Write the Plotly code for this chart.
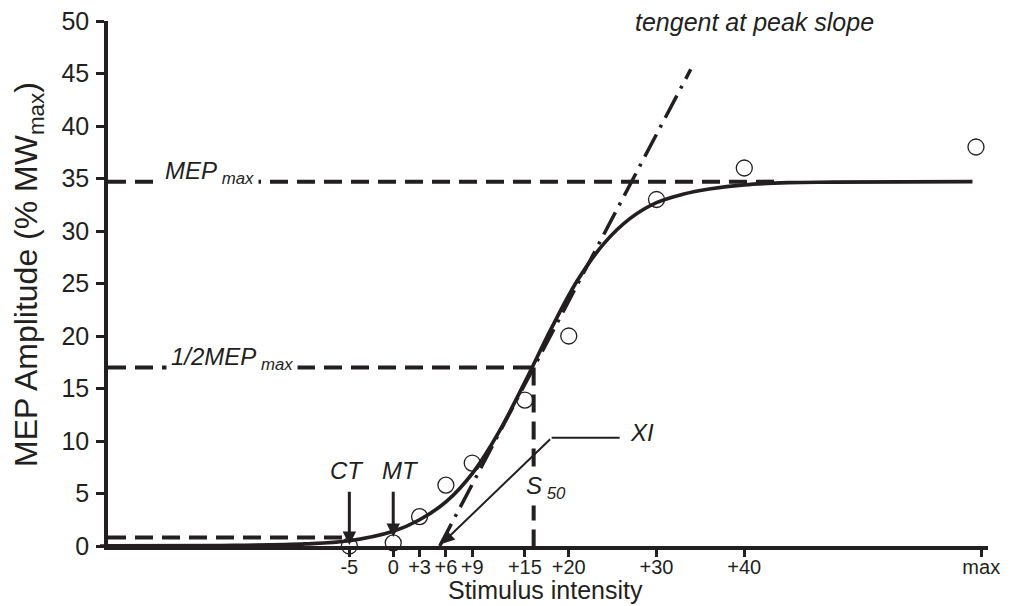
import plotly.graph_objects as go

# ---- data ----
tick_vals = [-5, 0, 3, 6, 9, 15, 20, 30, 40, 67]
tick_text = ["-5", "0", "+3", "+6", "+9", "+15", "+20", "+30", "+40", "max"]

point_x = [-5, 0, 3, 6, 9, 15, 20, 30, 40, 66.4]
point_y = [0.0, 0.3, 2.8, 5.8, 7.9, 13.9, 20.0, 33.0, 36.0, 38.0]

curve_x = [-33.4, -20, -10, -5, 0, 3, 6, 9, 12, 15, 18, 21, 24, 27, 30, 33, 36, 40, 45, 50, 66]
curve_y = [0.0, 0.05, 0.2, 0.5, 1.4, 2.5, 4.2, 6.9, 10.8, 15.6, 20.7, 25.3, 28.8, 31.2, 32.7,
           33.5, 34.0, 34.4, 34.6, 34.65, 34.7]

tangent_x = [5.3, 33.9]
tangent_y = [0.0, 45.4]

MEP_MAX = 34.7
HALF_MEP = 17.0
S50 = 16.0
CT_LEVEL = 0.8
CT_X = -5
MT_X = 0
MEP_LINE_END = 43.5
CT_LINE_END = -5.8
XI_ELBOW = (18.05, 10.3)
XI_END = 25.8
XI_TIP = (5.5, 0.2)

# ---- styling ----
INK = "#231f20"
FONT = "Liberation Sans, Arial, sans-serif"
DASH = "18px,9px"
XMIN, XMAX = -32.5, 67.77

fig = go.Figure()

# reference dashed lines
fig.add_trace(go.Scatter(x=[XMIN, MEP_LINE_END], y=[MEP_MAX, MEP_MAX], mode="lines",
                         line=dict(color=INK, width=4, dash=DASH)))
fig.add_trace(go.Scatter(x=[XMIN, S50], y=[HALF_MEP, HALF_MEP], mode="lines",
                         line=dict(color=INK, width=4, dash=DASH)))
fig.add_trace(go.Scatter(x=[S50, S50], y=[HALF_MEP, 0], mode="lines",
                         line=dict(color=INK, width=4, dash=DASH)))
fig.add_trace(go.Scatter(x=[XMIN, CT_LINE_END], y=[CT_LEVEL, CT_LEVEL], mode="lines",
                         line=dict(color=INK, width=4, dash=DASH)))

# tangent at peak slope
fig.add_trace(go.Scatter(x=tangent_x, y=tangent_y, mode="lines",
                         line=dict(color=INK, width=3.5, dash="25px,8px,3px,8px")))

# XI horizontal leader
fig.add_trace(go.Scatter(x=[XI_ELBOW[0], XI_END], y=[XI_ELBOW[1], XI_ELBOW[1]], mode="lines",
                         line=dict(color=INK, width=2)))

# fitted curve
fig.add_trace(go.Scatter(x=curve_x, y=curve_y, mode="lines",
                         line=dict(color=INK, width=3.7, shape="spline", smoothing=1.0)))

# data points
fig.add_trace(go.Scatter(x=point_x, y=point_y, mode="markers", cliponaxis=False,
                         marker=dict(symbol="circle-open", size=16, color=INK,
                                     line=dict(width=1.3, color=INK))))

ann = []
lab_font = dict(family=FONT, size=24, color=INK)
ann.append(dict(x=-20.9, y=MEP_MAX, xref="x", yref="y", text="<i>MEP<sub> max</sub></i>",
                showarrow=False, bgcolor="white", borderpad=4, font=lab_font,
                xanchor="center", yanchor="middle", yshift=9))
ann.append(dict(x=-18.4, y=HALF_MEP, xref="x", yref="y", text="<i>1/2MEP<sub> max</sub></i>",
                showarrow=False, bgcolor="white", borderpad=4, font=lab_font,
                xanchor="center", yanchor="middle", yshift=9))
ann.append(dict(x=17.4, y=5.6, xref="x", yref="y", text="<i>S<sub> 50</sub></i>",
                showarrow=False, bgcolor="white", borderpad=2, font=lab_font,
                xanchor="center", yanchor="middle"))
ann.append(dict(x=28.3, y=10.8, xref="x", yref="y", text="<i>XI</i>",
                showarrow=False, font=lab_font, xanchor="center", yanchor="middle"))
ann.append(dict(x=-5.3, y=7.2, xref="x", yref="y", text="<i>CT</i>",
                showarrow=False, font=lab_font, xanchor="center", yanchor="middle"))
ann.append(dict(x=0.8, y=7.2, xref="x", yref="y", text="<i>MT</i>",
                showarrow=False, font=lab_font, xanchor="center", yanchor="middle"))
ann.append(dict(x=41.2, y=49.9, xref="x", yref="y", text="<i>tengent at peak slope</i>",
                showarrow=False, font=dict(family=FONT, size=25, color=INK),
                xanchor="center", yanchor="middle"))
# arrows
ann.append(dict(x=CT_X, y=0.1, ax=CT_X, ay=5.3, xref="x", yref="y", axref="x", ayref="y",
                text="", showarrow=True, arrowhead=2, arrowsize=0.9, arrowwidth=3, arrowcolor=INK))
ann.append(dict(x=MT_X, y=0.85, ax=MT_X, ay=5.3, xref="x", yref="y", axref="x", ayref="y",
                text="", showarrow=True, arrowhead=2, arrowsize=0.9, arrowwidth=3, arrowcolor=INK))
ann.append(dict(x=XI_TIP[0], y=XI_TIP[1], ax=XI_ELBOW[0], ay=XI_ELBOW[1], xref="x", yref="y",
                axref="x", ayref="y", text="", showarrow=True, arrowhead=2, arrowsize=1.3,
                arrowwidth=2, arrowcolor=INK))
# axis titles
ann.append(dict(x=-0.091, y=0.518, xref="paper", yref="paper",
                text="MEP Amplitude (% MW<sub>max</sub>)", textangle=-90, showarrow=False,
                xanchor="center", yanchor="middle",
                font=dict(family=FONT, size=32, color=INK)))
ann.append(dict(x=17.4, y=-0.0838, xref="x", yref="paper", text="Stimulus intensity",
                showarrow=False, xanchor="center", yanchor="middle",
                font=dict(family=FONT, size=25, color=INK)))

# page body has an 8px margin, so the figure is sized 8px smaller than the window
fig.update_layout(
    width=1009, height=598,
    margin=dict(l=100, r=29, t=13, b=60, autoexpand=False),
    plot_bgcolor="white", paper_bgcolor="white",
    showlegend=False,
    annotations=ann,
    shapes=[dict(type="line", xref="paper", yref="y", x0=-8 / 880, x1=0, y0=0, y1=0,
                 line=dict(color=INK, width=3.5))],
    xaxis=dict(range=[XMIN, XMAX], showline=True, linewidth=3.5, linecolor=INK,
               ticks="outside", ticklen=7, tickwidth=3, tickcolor=INK, automargin=False,
               tickvals=tick_vals, ticktext=tick_text, showgrid=False, zeroline=False,
               ticklabelstandoff=-7, ticklabeloverflow="allow",
               tickfont=dict(family=FONT, size=20, color=INK)),
    yaxis=dict(range=[0, 50], dtick=5, tick0=0, showline=True, linewidth=3.5, linecolor=INK,
               ticks="outside", ticklen=8, tickwidth=3, tickcolor=INK, automargin=False,
               showgrid=False, zeroline=False, ticklabelstandoff=2, ticklabeloverflow="allow",
               tickfont=dict(family=FONT, size=25, color=INK)),
)

fig.write_html("out.html")
